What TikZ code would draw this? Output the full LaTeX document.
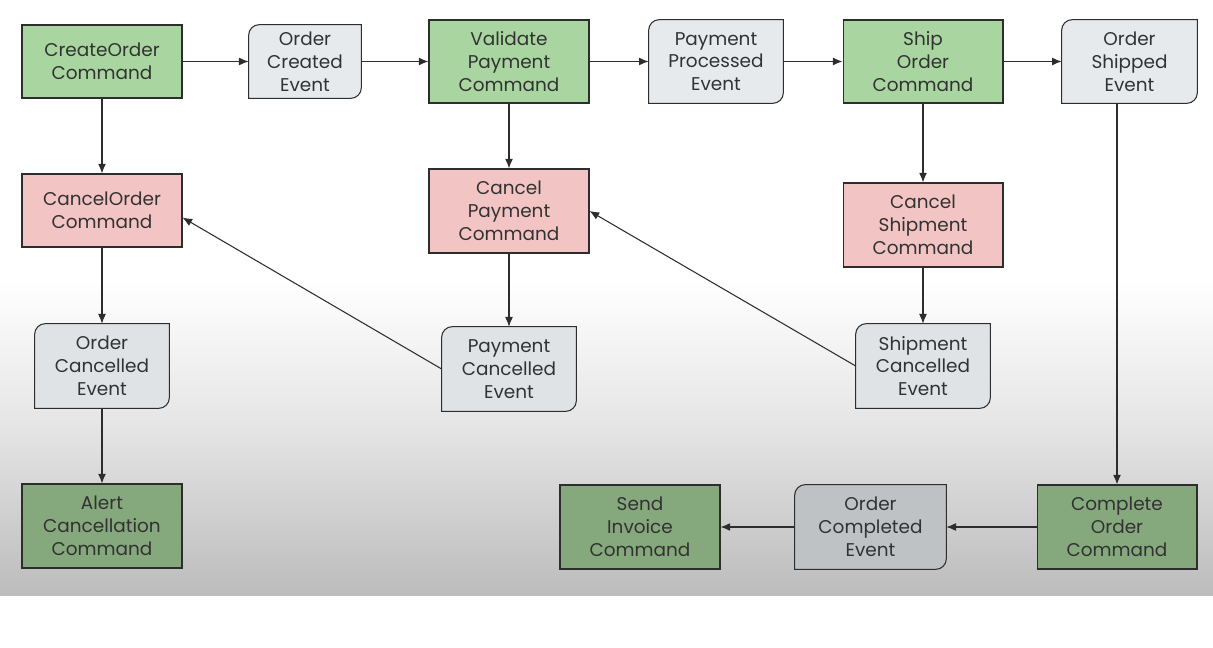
\documentclass[tikz,border=0pt]{standalone}
\usepackage{fontspec}
\setmainfont{Poppins}
\usetikzlibrary{arrows.meta}
\definecolor{txt}{RGB}{50,50,50}
\definecolor{edge}{RGB}{45,45,45}
\definecolor{cmdfill}{RGB}{168,213,160}
\definecolor{cmddark}{RGB}{133,168,124}
\definecolor{cancelfill}{RGB}{242,196,196}
\definecolor{evfill}{RGB}{231,234,236}
\definecolor{evmid}{RGB}{224,227,229}
\definecolor{evdark}{RGB}{190,194,197}
\definecolor{bgmid}{RGB}{228,228,228}
\definecolor{bgbot}{RGB}{188,188,188}
\pgfdeclarelayer{shade}
\pgfdeclarelayer{evback}
\pgfsetlayers{shade,evback,main}
\newcommand\evtshape[2]{%
  \begin{pgfonlayer}{evback}
    \draw[draw=edge, line width=0.6pt, fill=#2] (#1.south west) -- ([yshift=-6pt]#1.north west)
      arc[start angle=180, end angle=90, radius=6pt] -- (#1.north east)
      -- ([yshift=6pt]#1.south east) arc[start angle=0, end angle=-90, radius=6pt] -- cycle;
  \end{pgfonlayer}}
\begin{document}
\begin{tikzpicture}[
      x=0.02cm, y=-0.02cm,
      every node/.style={font=\fontsize{10.5}{13}\selectfont, text=txt, align=center, inner sep=2pt},
      cmd/.style={draw=edge, fill=cmdfill, minimum width=3.2cm, minimum height=1.66cm, line width=0.6pt},
      cmdlow/.style={cmd, fill=cmddark},
      cancel/.style={cmd, fill=cancelfill},
      evt/.style={minimum width=2.68cm, minimum height=1.66cm},
      flow/.style={draw=edge, line width=0.6pt, -{Latex[length=5.5pt, width=4.5pt]}}
    ]
      \useasboundingbox (0,0) rectangle (1213,648);
      \begin{pgfonlayer}{shade}
        \fill[white] (0,0) rectangle (1213,648);
        \shade[top color=white, bottom color=bgmid, draw=none] (0,280) rectangle (1213,430.5);
        \shade[top color=bgmid, bottom color=bgbot, draw=none] (0,430) rectangle (1213,595);
      \end{pgfonlayer}

      \node[cmd, minimum height=1.46cm] (createorder) at (102,61.5) {CreateOrder\\Command};
      \node[evt, minimum width=2.24cm, minimum height=1.46cm] (ordercreated) at (305,61.5) {Order\\Created\\Event};
      \node[cmd] (validatepay) at (509,61.5) {Validate\\Payment\\Command};
      \node[evt] (payprocessed) at (716,61.5) {Payment\\Processed\\Event};
      \node[cmd] (shiporder) at (923,61.5) {Ship\\Order\\Command};
      \node[evt, minimum width=2.7cm] (ordershipped) at (1129.5,61.5) {Order\\Shipped\\Event};

      \node[cancel, minimum height=1.46cm] (cancelorder) at (102,210.5) {CancelOrder\\Command};
      \node[cancel, minimum height=1.68cm] (cancelpay) at (509,211) {Cancel\\Payment\\Command};
      \node[cancel, minimum height=1.68cm] (cancelship) at (923,225) {Cancel\\Shipment\\Command};

      \node[evt, minimum height=1.68cm] (ordercancelled) at (102,366) {Order\\Cancelled\\Event};
      \node[evt, minimum height=1.68cm] (paycancelled) at (509,369) {Payment\\Cancelled\\Event};
      \node[evt, minimum height=1.68cm] (shipcancelled) at (923,366) {Shipment\\Cancelled\\Event};

      \node[cmdlow, minimum height=1.68cm] (alertcancel) at (102,526) {Alert\\Cancellation\\Command};
      \node[cmdlow, minimum height=1.68cm] (sendinvoice) at (640,527) {Send\\Invoice\\Command};
      \node[evt, minimum width=3.02cm, minimum height=1.68cm] (ordercompleted) at (870.5,527) {Order\\Completed\\Event};
      \node[cmdlow, minimum height=1.68cm] (completeorder) at (1117,527) {Complete\\Order\\Command};

      \evtshape{ordercreated}{evfill}
      \evtshape{payprocessed}{evfill}
      \evtshape{ordershipped}{evfill}
      \evtshape{ordercancelled}{evmid}
      \evtshape{paycancelled}{evmid}
      \evtshape{shipcancelled}{evmid}
      \evtshape{ordercompleted}{evdark}

      \draw[flow] (createorder) -- (ordercreated);
      \draw[flow] (ordercreated) -- (validatepay);
      \draw[flow] (validatepay) -- (payprocessed);
      \draw[flow] (payprocessed) -- (shiporder);
      \draw[flow] (shiporder) -- (ordershipped);

      \draw[flow] (createorder) -- (cancelorder);
      \draw[flow] (validatepay) -- (cancelpay);
      \draw[flow] (shiporder) -- (cancelship);
      \draw[flow] (cancelorder) -- (ordercancelled);
      \draw[flow] (cancelpay) -- (paycancelled);
      \draw[flow] (cancelship) -- (shipcancelled);
      \draw[flow] (ordercancelled) -- (alertcancel);

      \draw[flow] (paycancelled.west) -- ([yshift=-4pt]cancelorder.east);
      \draw[flow] (shipcancelled.west) -- (cancelpay.east);

      \draw[flow] (ordershipped.south -| completeorder.north) -- (completeorder.north);
      \draw[flow] (completeorder) -- (ordercompleted);
      \draw[flow] (ordercompleted) -- (sendinvoice);
    \end{tikzpicture}
\end{document}
